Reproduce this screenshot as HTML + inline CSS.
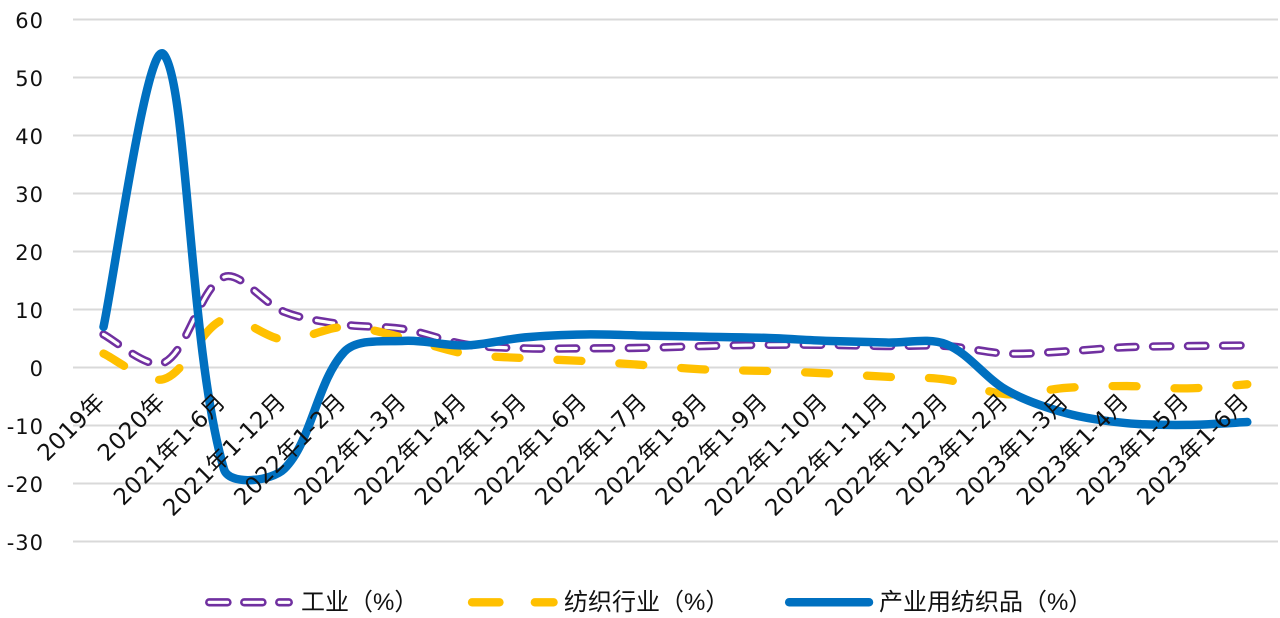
<!DOCTYPE html>
<html>
<head>
<meta charset="utf-8">
<style>
  html, body { margin: 0; padding: 0; background: #ffffff; }
  body { width: 1280px; height: 618px; overflow: hidden; }
  svg { display: block; }
  .yl { font-family: "DejaVu Sans", "Liberation Sans", sans-serif; font-size: 21px; fill: #111; letter-spacing: 1px; }
  .xl { font-family: "DejaVu Sans", "Noto Sans CJK SC", sans-serif; font-size: 23px; fill: #111; letter-spacing: 0.5px; }
  .lg { font-family: "Liberation Sans", "Noto Sans CJK SC", sans-serif; font-size: 24px; fill: #111; }
</style>
</head>
<body>
<svg id="chart" width="1280" height="618" viewBox="0 0 1280 618" xmlns="http://www.w3.org/2000/svg">
  <rect x="0" y="0" width="1280" height="618" fill="#ffffff"/>
  <g stroke="#D9D9D9" stroke-width="2">
    <line x1="73" y1="19.5" x2="1278" y2="19.5"/>
    <line x1="73" y1="77.5" x2="1278" y2="77.5"/>
    <line x1="73" y1="135.5" x2="1278" y2="135.5"/>
    <line x1="73" y1="193.5" x2="1278" y2="193.5"/>
    <line x1="73" y1="251.5" x2="1278" y2="251.5"/>
    <line x1="73" y1="309.5" x2="1278" y2="309.5"/>
    <line x1="73" y1="367.5" x2="1278" y2="367.5"/>
    <line x1="73" y1="425.5" x2="1278" y2="425.5"/>
    <line x1="73" y1="483.5" x2="1278" y2="483.5"/>
    <line x1="73" y1="541.5" x2="1278" y2="541.5"/>
  </g>
  <g class="yl" text-anchor="end">
    <text x="44" y="28">60</text>
    <text x="44" y="86">50</text>
    <text x="44" y="144">40</text>
    <text x="44" y="202">30</text>
    <text x="44" y="260">20</text>
    <text x="44" y="318">10</text>
    <text x="44" y="376">0</text>
    <text x="44" y="434">-10</text>
    <text x="44" y="492">-20</text>
    <text x="44" y="550">-30</text>
  </g>

  <path id="pO" fill="none" stroke="#7030A0" stroke-width="8.3" stroke-linecap="round" stroke-linejoin="round" stroke-dasharray="17.5 17.5"/>
  <path id="pI" fill="none" stroke="#ffffff" stroke-width="3.2" stroke-linecap="round" stroke-linejoin="round" stroke-dasharray="17.5 17.5"/>
  <path id="yS" fill="none" stroke="#FFC000" stroke-width="8.3" stroke-linecap="round" stroke-linejoin="round" stroke-dasharray="24 38"/>
  <path id="bS" fill="none" stroke="#0070C0" stroke-width="8.5" stroke-linecap="round" stroke-linejoin="round"/>

  <g class="xl" text-anchor="end">
    <text x="106.5" y="403" transform="rotate(-45 106.5 403)">2019年</text>
    <text x="166.7" y="403" transform="rotate(-45 166.7 403)">2020年</text>
    <text x="226.9" y="403" transform="rotate(-45 226.9 403)">2021年1-6月</text>
    <text x="287.1" y="403" transform="rotate(-45 287.1 403)">2021年1-12月</text>
    <text x="347.3" y="403" transform="rotate(-45 347.3 403)">2022年1-2月</text>
    <text x="407.5" y="403" transform="rotate(-45 407.5 403)">2022年1-3月</text>
    <text x="467.7" y="403" transform="rotate(-45 467.7 403)">2022年1-4月</text>
    <text x="527.9" y="403" transform="rotate(-45 527.9 403)">2022年1-5月</text>
    <text x="588.1" y="403" transform="rotate(-45 588.1 403)">2022年1-6月</text>
    <text x="648.3" y="403" transform="rotate(-45 648.3 403)">2022年1-7月</text>
    <text x="708.5" y="403" transform="rotate(-45 708.5 403)">2022年1-8月</text>
    <text x="768.7" y="403" transform="rotate(-45 768.7 403)">2022年1-9月</text>
    <text x="828.9" y="403" transform="rotate(-45 828.9 403)">2022年1-10月</text>
    <text x="889.1" y="403" transform="rotate(-45 889.1 403)">2022年1-11月</text>
    <text x="949.3" y="403" transform="rotate(-45 949.3 403)">2022年1-12月</text>
    <text x="1009.5" y="403" transform="rotate(-45 1009.5 403)">2023年1-2月</text>
    <text x="1069.7" y="403" transform="rotate(-45 1069.7 403)">2023年1-3月</text>
    <text x="1129.9" y="403" transform="rotate(-45 1129.9 403)">2023年1-4月</text>
    <text x="1190.1" y="403" transform="rotate(-45 1190.1 403)">2023年1-5月</text>
    <text x="1250.3" y="403" transform="rotate(-45 1250.3 403)">2023年1-6月</text>
  </g>

  <g stroke-linecap="round">
    <g stroke="#7030A0" stroke-width="8.3">
      <line x1="209.2" y1="602.3" x2="227.5" y2="602.3"/>
      <line x1="244.2" y1="602.3" x2="262.5" y2="602.3"/>
      <line x1="279.2" y1="602.3" x2="288.8" y2="602.3"/>
    </g>
    <g stroke="#ffffff" stroke-width="3.2">
      <line x1="209.2" y1="602.3" x2="227.5" y2="602.3"/>
      <line x1="244.2" y1="602.3" x2="262.5" y2="602.3"/>
      <line x1="279.2" y1="602.3" x2="288.8" y2="602.3"/>
    </g>
    <g stroke="#FFC000" stroke-width="8.3">
      <line x1="472" y1="602.3" x2="499.5" y2="602.3"/>
      <line x1="534.8" y1="602.3" x2="553.6" y2="602.3"/>
    </g>
    <line x1="789.2" y1="602.3" x2="869" y2="602.3" stroke="#0070C0" stroke-width="8.5"/>
  </g>
  <text class="lg" x="301" y="610">工业（%）</text>
  <text class="lg" x="564" y="610">纺织行业（%）</text>
  <text class="lg" x="879" y="610">产业用纺织品（%）</text>
</svg>
<script>
(function(){
  var X0 = 103.5, DX = 60.2, Y0 = 367.5, K = 5.8;
  function pts(vals){ return vals.map(function(v,i){ return [X0 + i*DX, Y0 - v*K]; }); }
  function dist(a,b){ return Math.sqrt((a[0]-b[0])*(a[0]-b[0]) + (a[1]-b[1])*(a[1]-b[1])); }
  function f(n){ return n.toFixed(2); }
  function smooth(vals){
    var p = pts(vals), n = p.length;
    var d = "M" + f(p[0][0]) + "," + f(p[0][1]);
    for (var i = 0; i < n-1; i++){
      var a = p[i-1] || p[i], b = p[i], c = p[i+1], e = p[i+2] || p[i+1];
      var dab = dist(a,b), dbc = dist(b,c), dce = dist(c,e);
      var f1 = dbc / ((dab + dbc) || 1) / 3;
      var f2 = dbc / ((dbc + dce) || 1) / 3;
      if (i === 0) f1 = 1/6;
      if (i === n-2) f2 = 1/6;
      var c1 = [b[0] + (c[0]-a[0])*f1, b[1] + (c[1]-a[1])*f1];
      var c2 = [c[0] - (e[0]-b[0])*f2, c[1] - (e[1]-b[1])*f2];
      d += " C" + f(c1[0]) + "," + f(c1[1]) + " " + f(c2[0]) + "," + f(c2[1]) + " " + f(c[0]) + "," + f(c[1]);
    }
    return d;
  }
  var purple = [5.7, 0.8, 15.6, 9.6, 7.4, 6.6, 4.0, 3.3, 3.3, 3.4, 3.7, 3.9, 3.9, 3.7, 3.7, 2.4, 2.8, 3.5, 3.7, 3.8];
  var yellow = [2.4, -2.0, 8.3, 4.8, 7.0, 5.1, 2.4, 1.6, 1.1, 0.4, -0.35, -0.6, -1.0, -1.6, -2.1, -4.6, -3.5, -3.2, -3.6, -2.9];
  var blue   = [7.0, 54.0, -17.5, -17.5, 2.7, 4.6, 3.8, 5.2, 5.7, 5.5, 5.3, 5.1, 4.6, 4.3, 4.0, -3.9, -7.9, -9.6, -9.9, -9.4];
  var dp = smooth(purple);
  document.getElementById("pO").setAttribute("d", dp);
  document.getElementById("pI").setAttribute("d", dp);
  document.getElementById("yS").setAttribute("d", smooth(yellow));
  document.getElementById("bS").setAttribute("d", smooth(blue));
})();
</script>
</body>
</html>
